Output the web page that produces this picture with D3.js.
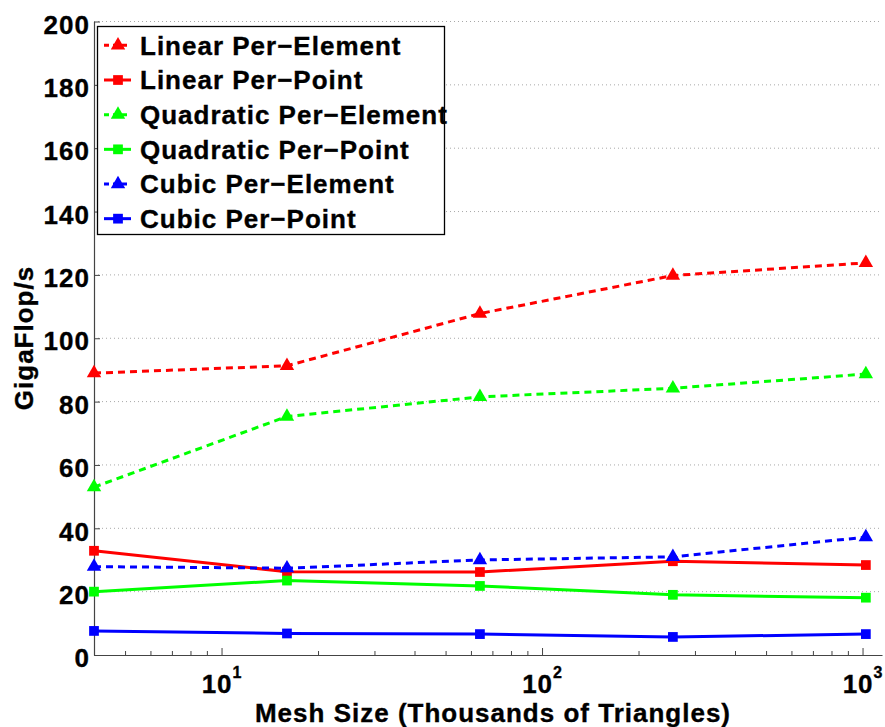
<!DOCTYPE html>
<html>
<head>
<meta charset="utf-8">
<script src="https://cdn.jsdelivr.net/npm/d3@7"></script>
<style>
    body { margin: 0; background: #fff; }
    text { font-family: "Liberation Sans", Arial, sans-serif; font-weight: bold; fill: #000; stroke: #000; stroke-width: 0.35px; }
</style>
</head>
<body>
<div id="chart-area"></div>
<script>

// data (GigaFlop/s vs mesh size in thousands of triangles)
var meshSizes = [4, 16, 64, 256, 1024];
var linearPerElement = [89, 91.3, 107.8, 119.8, 123.8];
var linearPerPoint = [32.9, 26.3, 26.2, 29.6, 28.4];
var quadraticPerElement = [53, 75.3, 81.5, 84.2, 88.7];
var quadraticPerPoint = [20, 23.5, 21.8, 19, 18.1];
var cubicPerElement = [27.9, 27.4, 30, 31, 37.2];
var cubicPerPoint = [7.6, 6.8, 6.6, 5.7, 6.6];

var seriesNames = ["Linear Per\u2212Element", "Linear Per\u2212Point", "Quadratic Per\u2212Element",
    "Quadratic Per\u2212Point", "Cubic Per\u2212Element", "Cubic Per\u2212Point"];
var seriesValues = [linearPerElement, linearPerPoint, quadraticPerElement,
    quadraticPerPoint, cubicPerElement, cubicPerPoint];
var seriesColors = ["#ff0000", "#ff0000", "#00ff00", "#00ff00", "#0000ff", "#0000ff"];
var seriesDashed = [true, false, true, false, true, false];

var yTicks = [0, 20, 40, 60, 80, 100, 120, 140, 160, 180, 200];
var xMajorTicks = [10, 100, 1000];

var width = 885, height = 727;

var svg = d3.select("#chart-area").append("svg")
    .attr("width", width)
    .attr("height", height);

// scales
var x = d3.scaleLog()
    .domain([4, 1150])
    .range([94, 882]);

var y = d3.scaleLinear()
    .domain([0, 200])
    .range([655, 21.5]);

// horizontal dotted grid
svg.append("g").attr("class", "grid")
    .selectAll("line")
    .data(yTicks.filter(function(d) { return d > 0; }))
    .enter().append("line")
    .attr("x1", x.range()[0])
    .attr("x2", x.range()[1])
    .attr("y1", function(d) { return y(d); })
    .attr("y2", function(d) { return y(d); })
    .attr("stroke", "#a8a8a8")
    .attr("stroke-width", 1)
    .attr("stroke-dasharray", "1,3");

// x axis: minor ticks, then major ticks (both pointing in)
var minorTicks = x.ticks().filter(function(d) { return xMajorTicks.indexOf(d) < 0 && d > 4; });

var xMinor = svg.append("g")
    .attr("transform", "translate(0," + y(0) + ")")
    .call(d3.axisBottom(x).tickValues(minorTicks).tickSize(-4).tickSizeOuter(0).tickFormat(""));

var xMajor = svg.append("g")
    .attr("class", "x-axis axis")
    .attr("transform", "translate(0," + y(0) + ")")
    .call(d3.axisBottom(x).tickValues(xMajorTicks).tickSize(-7).tickSizeOuter(0).tickFormat(""));

xMinor.select(".domain").remove();
svg.selectAll(".tick line").attr("stroke", "#444");
xMajor.select(".domain").attr("stroke", "#444").attr("stroke-width", 1.2);

// 10^n labels with superscripts
var xLabels = xMajor.selectAll(".tick").append("text")
    .attr("y", 38)
    .attr("text-anchor", "middle")
    .style("font-size", "26px")
    .style("letter-spacing", "1px");
xLabels.append("tspan").text("10");
xLabels.append("tspan")
    .attr("dy", -15)
    .style("font-size", "16px")
    .text(function(d) { return Math.round(Math.log10(d)); });

// y axis
var yAxis = svg.append("g")
    .attr("class", "y-axis axis")
    .attr("transform", "translate(" + x.range()[0] + ",0)")
    .call(d3.axisLeft(y).tickValues(yTicks).tickSize(-6).tickSizeOuter(0).tickPadding(4));

yAxis.select(".domain").attr("stroke", "#444").attr("stroke-width", 1.2);
yAxis.selectAll(".tick line").attr("stroke", "#444");
yAxis.selectAll(".tick text")
    .attr("fill", "#000")
    .attr("dy", "0.45em")
    .style("font-family", "'Liberation Sans', Arial, sans-serif")
    .style("font-size", "26px")
    .style("letter-spacing", "1px");

// axis titles
svg.append("text")
    .attr("x", 493)
    .attr("y", 722)
    .attr("text-anchor", "middle")
    .style("font-size", "26px")
    .style("letter-spacing", "1px")
    .text("Mesh Size (Thousands of Triangles)");

svg.append("text")
    .attr("transform", "translate(33,338) rotate(-90)")
    .attr("text-anchor", "middle")
    .style("font-size", "26px")
    .style("letter-spacing", "1px")
    .text("GigaFlop/s");

// lines + markers
var line = d3.line()
    .x(function(d, i) { return x(meshSizes[i]); })
    .y(function(d) { return y(d); });

var triangle = d3.symbol().type(d3.symbolTriangle).size(90);
var square = d3.symbol().type(d3.symbolSquare).size(95);

seriesValues.forEach(function(values, s) {
    svg.append("path")
        .datum(values)
        .attr("fill", "none")
        .attr("stroke", seriesColors[s])
        .attr("stroke-width", 3)
        .attr("stroke-dasharray", seriesDashed[s] ? "7,5" : null)
        .attr("d", line);

    svg.selectAll(".marker" + s)
        .data(values)
        .enter().append("path")
        .attr("class", "marker" + s)
        .attr("transform", function(d, i) { return "translate(" + x(meshSizes[i]) + "," + y(d) + ")"; })
        .attr("fill", seriesColors[s])
        .attr("d", seriesDashed[s] ? triangle : square);
});

// legend
var legend = svg.append("g").attr("class", "legend");

legend.append("rect")
    .attr("x", 97.5)
    .attr("y", 26.5)
    .attr("width", 347)
    .attr("height", 208)
    .attr("fill", "#fff")
    .attr("stroke", "#000")
    .attr("stroke-width", 1.3);

var rowY = d3.scaleBand()
    .domain(seriesNames)
    .range([28, 236]);

var rows = legend.selectAll(".legend-row")
    .data(seriesNames)
    .enter().append("g")
    .attr("class", "legend-row")
    .attr("transform", function(d) { return "translate(0," + (rowY(d) + rowY.bandwidth() / 2) + ")"; });

rows.append("line")
    .attr("x1", 104)
    .attr("x2", 131)
    .attr("stroke", function(d, i) { return seriesColors[i]; })
    .attr("stroke-width", 3)
    .attr("stroke-dasharray", function(d, i) { return seriesDashed[i] ? "5,4" : null; });

rows.append("path")
    .attr("transform", "translate(118,0)")
    .attr("fill", function(d, i) { return seriesColors[i]; })
    .attr("d", function(d, i) { return seriesDashed[i] ? triangle() : square(); });

rows.append("text")
    .attr("x", 140)
    .attr("dy", "0.36em")
    .style("font-size", "26px")
    .style("letter-spacing", "1px")
    .text(function(d) { return d; });

</script>
</body>
</html>
